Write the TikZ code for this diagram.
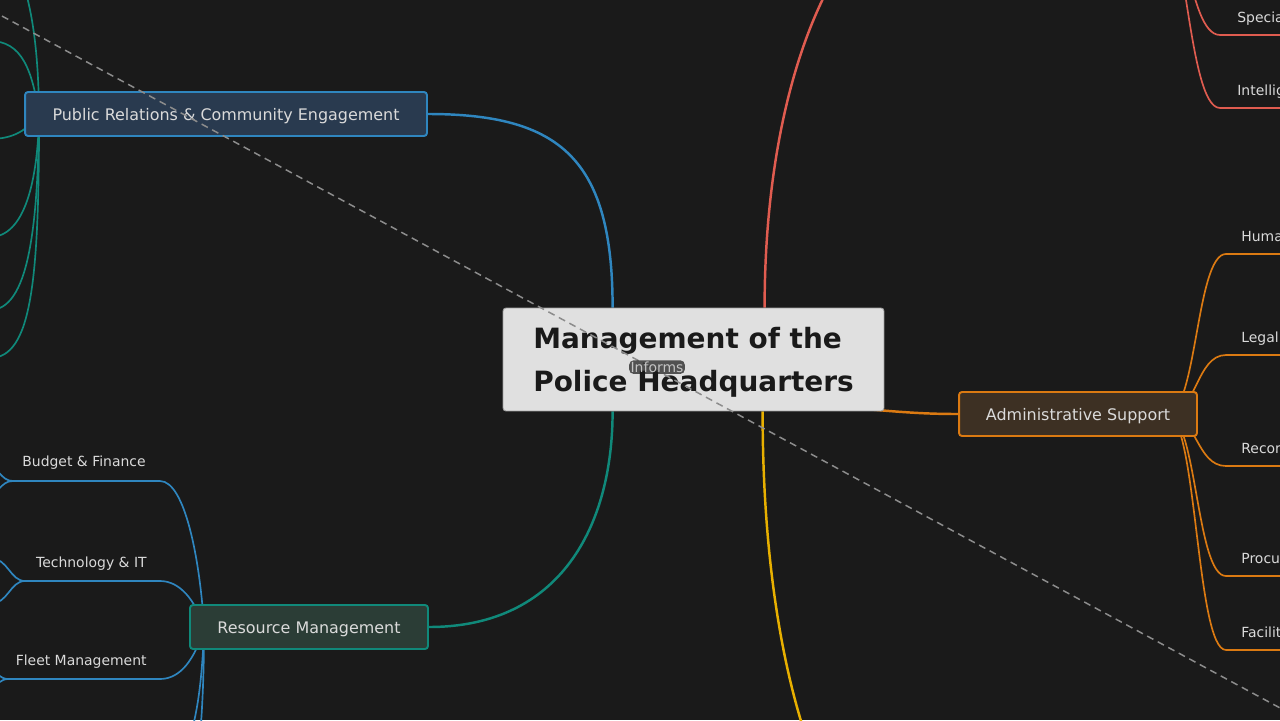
\documentclass[tikz,border=0pt]{standalone}
\usepackage{fontspec}
\setmainfont{DejaVu Sans}
\usetikzlibrary{calc}

\definecolor{bgdark}{HTML}{1A1A1A}
\definecolor{hqfill}{HTML}{E0E0E0}
\definecolor{hqline}{HTML}{A0A0A0}
\definecolor{linkblue}{HTML}{2F86BF}
\definecolor{linkteal}{HTML}{10897A}
\definecolor{linkred}{HTML}{E05C50}
\definecolor{linkyellow}{HTML}{E8B000}
\definecolor{linkorange}{HTML}{DB7A12}
\definecolor{prfill}{HTML}{293A4F}
\definecolor{rmfill}{HTML}{2B3D36}
\definecolor{admfill}{HTML}{3D3023}
\definecolor{labelgray}{HTML}{DADADA}
\definecolor{dashgray}{HTML}{8C8C8C}

\pgfdeclarelayer{links}
\pgfsetlayers{links,main}

\tikzset{
  branch/.style={draw=#1, line width=1.1pt, rounded corners=1.7pt, minimum height=0.88cm,
    text height=7.7pt, text depth=0pt, text=labelgray, font=\fontsize{9.07}{11}\selectfont},
  leaf/.style={text=labelgray, font=\fontsize{7.94}{10}\selectfont, inner sep=0pt},
  mainlink/.style={draw=#1, line width=1.4pt},
  sublink/.style={draw=#1, line width=0.95pt}
}

\begin{document}
\begin{tikzpicture}[x=0.02cm, y=-0.02cm]
\useasboundingbox (0,0) rectangle (1280,720);

% centre and branches
\node [fill=hqfill, draw=hqline, line width=0.5pt, rounded corners=1.7pt, minimum width=7.62cm,
  minimum height=2.06cm, align=left, text=bgdark, text height=39.3pt,
  font=\fontsize{15.9}{24.4}\selectfont\bfseries] (hq) at (693.5,359.5) {Management of the\\Police Headquarters};

\node [branch=linkblue, fill=prfill, minimum width=8.04cm] (pr) at (226,114) {Public Relations \& Community Engagement};
\node [branch=linkteal, fill=rmfill, minimum width=4.76cm] (rm) at (309,627) {Resource Management};
\node [branch=linkorange, fill=admfill, minimum width=4.76cm] (adm) at (1078,414) {Administrative Support};

% branches lying off the page
\coordinate (ops) at (945,-108);
\coordinate (ops-s) at (1152,-108);
\coordinate (fld) at (950,900);

\coordinate (pr-s) at ($(pr.west)+(15,0)$);
\coordinate (rm-s) at ($(rm.west)+(15,0)$);
\coordinate (adm-s) at ($(adm.east)+(-31,0)$);

% leaves
\foreach \x/\y/\name/\txt in {146/466/bf/Budget \& Finance, 147/567/ti/Technology \& IT, 147/665/fm/Fleet Management}
	\node [leaf, anchor=base east] (\name) at (\x,\y) {\txt};

\foreach \y/\name/\txt in {241/hr/Human Resources, 342/lg/Legal Affairs, 453/rc/Records Management,
		563/pc/Procurement, 637/fc/Facilities Management}
	\node [leaf, anchor=base west] (\name) at (1241,\y) {\txt};

\foreach \y/\name/\txt in {22/so/Special Operations, 95/iu/Intelligence Unit}
	\node [leaf, anchor=base west] (\name) at (1237,\y) {\txt};

\begin{pgfonlayer}{links}
\fill [bgdark] (0,0) rectangle (1280,720);

% centre to branches
\draw [mainlink=linkblue] ($(hq.north west)+(110,0)$) .. controls +(0,-148) and +(133,0) .. (pr.east);
\draw [mainlink=linkteal] ($(hq.south west)+(110,0)$) .. controls +(0,114) and +(132,0) .. (rm.east);
\draw [mainlink=linkred] ($(hq.north west)+(262,0)$) .. controls +(0,-248) and +(-95,0) .. (ops);
\draw [mainlink=linkyellow] ($(hq.south west)+(260,0)$) .. controls +(0,309) and +(-100,0) .. (fld);
\draw [mainlink=linkorange] ($(hq.south east)+(-50,-5)$) .. controls +(60,5) and +(-40,0) .. (adm.west);

% public relations
\foreach \name/\x/\y in {pr-c1/-20/-80, pr-c2/-10/41, pr-c3/-10/139, pr-c4/-10/237, pr-c5/-10/310, pr-c6/-10/358}
	\coordinate (\name) at (\x,\y);
\draw [sublink=linkteal] (pr-s) .. controls (38,20) and (25,-50) .. (pr-c1);
\draw [sublink=linkteal] (pr-s) .. controls (32,70) and (22,41) .. (pr-c2);
\draw [sublink=linkteal] (pr-s) .. controls (30,126) and (18,139) .. (pr-c3);
\draw [sublink=linkteal] (pr-s) .. controls (38,180) and (25,237) .. (pr-c4);
\draw [sublink=linkteal] (pr-s) .. controls (38,230) and (28,310) .. (pr-c5);
\draw [sublink=linkteal] (pr-s) .. controls (39,280) and (32,358) .. (pr-c6);

% resource management
\foreach \name/\l/\y in {bf/13/481, ti/25/581, fm/8/679} {
	\coordinate (\name-l) at (\l,\y);
	\coordinate (\name-r) at (160,\y);
}
\draw [sublink=linkblue] (rm-s) .. controls (200,560) and (185,481) .. (bf-r) -- (bf-l);
\draw [sublink=linkblue] (rm-s) .. controls (195,600) and (180,581) .. (ti-r) -- (ti-l);
\draw [sublink=linkblue] (rm-s) .. controls (195,660) and (180,679) .. (fm-r) -- (fm-l);
\coordinate (rm-c4) at (175,770);
\coordinate (rm-c5) at (175,860);
\draw [sublink=linkblue] (rm-s) .. controls (202,690) and (195,740) .. (rm-c4);
\draw [sublink=linkblue] (rm-s) .. controls (204,700) and (200,800) .. (rm-c5);

\foreach \name/\x/\y in {bf-u/-15/466, bf-d/-15/495, ti-u/-10/558, ti-d/-10/604, fm-u/-10/672, fm-d/-10/686}
	\coordinate (\name) at (\x,\y);
\draw [sublink=linkblue] (bf-l) .. controls +(-13,0) and +(15,0) .. (bf-u);
\draw [sublink=linkblue] (bf-l) .. controls +(-13,0) and +(15,0) .. (bf-d);
\draw [sublink=linkblue] (ti-l) .. controls +(-15,0) and +(18,0) .. (ti-u);
\draw [sublink=linkblue] (ti-l) .. controls +(-15,0) and +(18,0) .. (ti-d);
\draw [sublink=linkblue] (fm-l) .. controls +(-8,0) and +(8,0) .. (fm-u);
\draw [sublink=linkblue] (fm-l) .. controls +(-8,0) and +(8,0) .. (fm-d);

% administrative support
\foreach \name/\y in {hr/254, lg/355, rc/466, pc/576, fc/650} {
	\coordinate (\name-l) at (1226,\y);
	\coordinate (\name-r) at (1300,\y);
	\draw [sublink=linkorange] (adm-s) .. controls +(30,0) and +(-30,0) .. (\name-l) -- (\name-r);
}

% the branch above the page
\foreach \name/\y in {so/35, iu/108} {
	\coordinate (\name-l) at (1220,\y);
	\coordinate (\name-r) at (1300,\y);
	\draw [sublink=linkred] (ops-s) .. controls +(34,0) and +(-34,0) .. (\name-l) -- (\name-r);
}
\end{pgfonlayer}

% cross link
\coordinate (inf-a) at (-40,-6.7);
\coordinate (inf-b) at (1320,729.6);
\draw [dashgray, line width=0.85pt, dash pattern=on 4pt off 2.8pt] (inf-a) -- node [pos=0.5125, yshift=2pt,
	text=labelgray!90!black, fill=bgdark, fill opacity=0.72, text opacity=1, rounded corners=2.5pt, inner sep=0.8pt,
	font=\fontsize{7.94}{9}\selectfont] (inf) {Informs} (inf-b);

\end{tikzpicture}
\end{document}
